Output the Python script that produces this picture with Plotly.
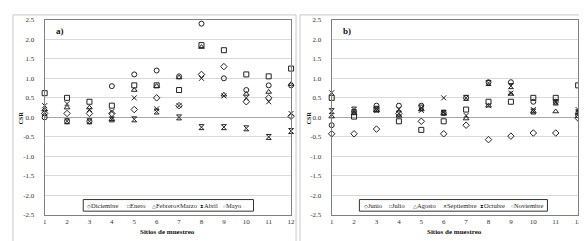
import plotly.graph_objects as go

sites = list(range(1, 12 + 1))

# Panel a) Dec - May
diciembre = [0.10, 0.10, 0.10, 0.10, 0.20, 0.50, 0.30, 1.10, 1.30, 0.40, 0.50, 0.03]
enero     = [0.62, 0.50, 0.40, 0.30, 0.82, 0.82, 0.70, 1.85, 1.72, 1.10, 1.05, 1.25]
febrero   = [0.20, 0.25, 0.25, -0.05, 0.70, 0.80, 1.02, 1.80, 0.58, 0.60, 0.65, 0.85]
marzo     = [0.30, 0.35, 0.20, 0.15, 0.50, 0.22, 0.30, 1.00, 0.55, 0.50, 0.40, 0.10]
abril     = [0.12, -0.10, -0.10, -0.05, -0.05, 0.15, 0.00, -0.25, -0.25, -0.28, -0.50, -0.35]
mayo      = [0.00, -0.10, -0.10, 0.80, 1.10, 1.20, 1.05, 2.40, 1.00, 0.70, 0.82, 0.82]

# Panel b) Jun - Nov
junio      = [-0.42, -0.42, -0.30, 0.10, -0.10, -0.42, -0.20, -0.57, -0.48, -0.40, -0.40, -0.02]
julio      = [0.50, 0.02, 0.20, -0.10, -0.32, -0.10, 0.20, 0.40, 0.40, 0.50, 0.50, 0.82]
agosto     = [0.02, 0.10, 0.18, 0.04, 0.20, 0.10, -0.03, 0.30, 0.60, 0.15, 0.15, 0.13]
septiembre = [0.63, 0.15, 0.18, 0.21, 0.18, 0.50, 0.05, 0.30, 0.62, 0.20, 0.40, 0.20]
octubre    = [0.16, 0.20, 0.22, 0.10, 0.25, 0.12, 0.50, 0.88, 0.80, 0.15, 0.38, 0.13]
noviembre  = [-0.20, 0.15, 0.30, 0.30, 0.30, 0.12, 0.50, 0.90, 0.90, 0.40, 0.40, 0.05]

y_ticks = [2.5, 2.0, 1.5, 1.0, 0.5, 0.0, -0.5, -1.0, -1.5, -2.0, -2.5]
y_ticktext = ["%.1f" % v for v in y_ticks]

series_a = [("Diciembre", diciembre), ("Enero", enero), ("Febrero", febrero),
            ("Marzo", marzo), ("Abril", abril), ("Mayo", mayo)]
series_b = [("Junio", junio), ("Julio", julio), ("Agosto", agosto),
            ("Septiembre", septiembre), ("Octubre", octubre), ("Noviembre", noviembre)]
symbols = ["diamond-open", "square-open", "triangle-up-open", "x-thin-open", "hourglass-open", "circle-open"]
glyphs = ["\u25C7", "\u25A1", "\u25B3", "\u2715", "\u29D7", "\u25CB"]

W, H = 587, 241
def px(x):
    return x / W
def py(y):
    return 1 - y / H

FONT = "Liberation Serif"
fig = go.Figure()

def add_series(series, xa, ya):
    for (name, vals), sym in zip(series, symbols):
        fig.add_trace(go.Scatter(x=sites, y=vals, mode="markers", name=name, showlegend=False,
                                 xaxis=xa, yaxis=ya, cliponaxis=False,
                                 marker=dict(symbol=sym, size=5, color="#222",
                                             line=dict(color="#222", width=1))))

add_series(series_a, "x", "y")
add_series(series_b, "x2", "y2")

ydom = [py(210), py(8)]
axis_common = dict(showline=True, mirror=True, linecolor="#808080", linewidth=1,
                   tickfont=dict(family=FONT, size=7, color="#333"))
xa = dict(range=[1, 12], tickvals=sites, showgrid=False, zeroline=False, ticks="",
          ticklabelstandoff=0, **axis_common)
ya = dict(range=[-2.5, 2.5], tickvals=y_ticks, ticktext=y_ticktext, showgrid=True,
          gridcolor="#d9d9d9", gridwidth=1, zeroline=True, zerolinecolor="#a8a8a8",
          zerolinewidth=1, ticks="", ticklabelstandoff=8, domain=ydom, **axis_common)

fig.update_layout(
    width=W, height=H, margin=dict(l=0, r=0, t=0, b=0),
    paper_bgcolor="white", plot_bgcolor="white", showlegend=False,
    xaxis=dict(domain=[px(35), px(284)], anchor="y", **xa),
    yaxis=dict(anchor="x", **ya),
    xaxis2=dict(domain=[px(325), px(574)], anchor="y2", **xa),
    yaxis2=dict(anchor="x2", **ya),
)

shapes = []
for x0, x1 in [(3, 289), (293, 583)]:
    shapes.append(dict(type="rect", xref="paper", yref="paper", x0=px(x0), x1=px(x1),
                       y0=py(238), y1=py(3), line=dict(color="#c8c8c8", width=1)))
for x0, x1 in [(74, 246), (353, 543)]:
    shapes.append(dict(type="rect", xref="paper", yref="paper", x0=px(x0), x1=px(x1),
                       y0=py(206), y1=py(194), line=dict(color="#333", width=1),
                       fillcolor="white"))
fig.update_layout(shapes=shapes)

ann = []
ann.append(dict(text="<b>a)</b>", x=px(44), y=py(20), xref="paper", yref="paper",
                xanchor="left", yanchor="middle", showarrow=False,
                font=dict(family=FONT, size=9, color="#111")))
ann.append(dict(text="<b>b)</b>", x=px(334), y=py(20), xref="paper", yref="paper",
                xanchor="left", yanchor="middle", showarrow=False,
                font=dict(family=FONT, size=9, color="#111")))
for cx in [12, 302]:
    ann.append(dict(text="<b>CSR</b>", x=px(cx), y=py(109), xref="paper", yref="paper",
                    textangle=-90, showarrow=False, xanchor="center", yanchor="middle",
                    font=dict(family=FONT, size=6, color="#111")))
for cx in [159.5, 449.5]:
    ann.append(dict(text="<b>Sitios de muestreo</b>", x=px(cx), y=py(228), xref="paper",
                    yref="paper", showarrow=False, xanchor="center", yanchor="middle",
                    font=dict(family=FONT, size=7, color="#111")))

legend_x_a = [76, 116, 141, 166, 190, 213]
legend_x_b = [356, 381, 405, 435, 473, 504]
for xs, ser in [(legend_x_a, series_a), (legend_x_b, series_b)]:
    for x0, (name, _), g in zip(xs, ser, glyphs):
        ann.append(dict(text="<span style='font-size:5px'>" + g + "</span>" + name,
                        x=px(x0), y=py(200.5), xref="paper", yref="paper",
                        showarrow=False, xanchor="left", yanchor="middle",
                        font=dict(family=FONT, size=6.5, color="#222")))
fig.update_layout(annotations=ann)

fig.write_html("out.html")
